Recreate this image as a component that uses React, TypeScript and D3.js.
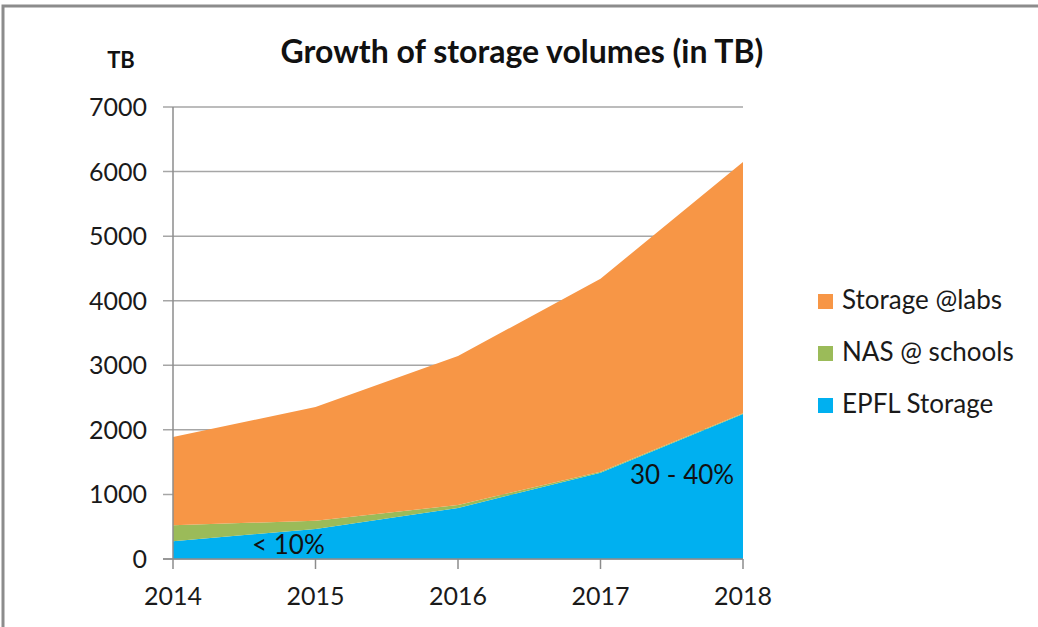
import { useEffect, useRef } from "react";
import * as d3 from "d3";

const years = [2014, 2015, 2016, 2017, 2018];
const epflStorage = [274, 465, 790, 1337, 2246];
const nasSchools = [248, 128, 46, 15, 10];
const storageLabs = [1368, 1761, 2308, 2988, 3894];
const yTicks = [0, 1000, 2000, 3000, 4000, 5000, 6000, 7000];

const seriesNames = ["EPFL Storage", "NAS @ schools", "Storage @labs"];
const seriesColors = ["#00b0f0", "#9bbb59", "#f79646"];

export default function App() {
  const svgRef = useRef<SVGSVGElement>(null);

  useEffect(() => {
    if (!svgRef.current) return;
    document.body.style.margin = "0";
    const svg = d3.select(svgRef.current);
    svg.selectAll("*").remove();

    const font = "Lato, 'Open Sans', sans-serif";

    const rows = years.map((y, i) => ({
      year: y,
      epfl: epflStorage[i],
      nas: nasSchools[i],
      labs: storageLabs[i],
    }));
    const keys = ["epfl", "nas", "labs"];
    const stacked = d3.stack<any>().keys(keys)(rows);

    const x = d3.scaleLinear().domain([2014, 2018]).range([173, 743]);
    const y = d3.scaleLinear().domain([0, 7000]).range([559, 107]);

    // outer frame
    svg
      .append("path")
      .attr("d", "M3,627 L3,6 L1038,6")
      .attr("fill", "none")
      .attr("stroke", "#8c8c8c")
      .attr("stroke-width", 3);

    // gridlines
    svg
      .append("g")
      .selectAll("line")
      .data(yTicks)
      .join("line")
      .attr("x1", 163)
      .attr("x2", 743)
      .attr("y1", (d) => y(d))
      .attr("y2", (d) => y(d))
      .attr("stroke", "#a6a6a6")
      .attr("stroke-width", 1.5);

    // stacked areas
    const area = d3
      .area<any>()
      .x((d) => x(d.data.year))
      .y0((d) => y(d[0]))
      .y1((d) => y(d[1]));

    svg
      .append("g")
      .selectAll("path")
      .data(stacked)
      .join("path")
      .attr("fill", (_d, i) => seriesColors[i])
      .attr("d", area);

    // axis lines
    svg
      .append("line")
      .attr("x1", 173)
      .attr("x2", 173)
      .attr("y1", y(7000))
      .attr("y2", y(0))
      .attr("stroke", "#8c8c8c")
      .attr("stroke-width", 1.5);

    svg
      .append("line")
      .attr("x1", 163)
      .attr("x2", 743)
      .attr("y1", y(0))
      .attr("y2", y(0))
      .attr("stroke", "#8c8c8c")
      .attr("stroke-width", 1.5);

    svg
      .append("g")
      .selectAll("line")
      .data(years)
      .join("line")
      .attr("x1", (d) => x(d))
      .attr("x2", (d) => x(d))
      .attr("y1", y(0))
      .attr("y2", y(0) + 10)
      .attr("stroke", "#8c8c8c")
      .attr("stroke-width", 1.5);

    // y tick labels
    svg
      .append("g")
      .selectAll("text")
      .data(yTicks)
      .join("text")
      .attr("x", 147)
      .attr("y", (d) => y(d) + 9)
      .attr("text-anchor", "end")
      .style("font-family", font)
      .style("font-size", "25px")
      .style("fill", "#1a1a1a")
      .text((d) => String(d));

    // x tick labels
    svg
      .append("g")
      .selectAll("text")
      .data(years)
      .join("text")
      .attr("x", (d) => x(d))
      .attr("y", 605)
      .attr("text-anchor", "middle")
      .style("font-family", font)
      .style("font-size", "25px")
      .style("fill", "#1a1a1a")
      .text((d) => String(d));

    // title
    svg
      .append("text")
      .attr("x", 522)
      .attr("y", 63)
      .attr("text-anchor", "middle")
      .style("font-family", font)
      .style("font-size", "32px")
      .style("font-weight", "bold")
      .style("fill", "#111")
      .text("Growth of storage volumes (in TB)");

    svg
      .append("text")
      .attr("x", 121)
      .attr("y", 68)
      .attr("text-anchor", "middle")
      .style("font-family", font)
      .style("font-size", "22px")
      .style("font-weight", "bold")
      .style("fill", "#111")
      .text("TB");

    // annotations
    svg
      .append("text")
      .attr("x", 252)
      .attr("y", 554)
      .style("font-family", font)
      .style("font-size", "26px")
      .style("fill", "#111")
      .text("< 10%");

    svg
      .append("text")
      .attr("x", 630)
      .attr("y", 484)
      .style("font-family", font)
      .style("font-size", "26px")
      .style("fill", "#111")
      .text("30 - 40%");

    // legend, top item is Storage @labs
    const legendItems = [2, 1, 0];
    const legend = svg
      .append("g")
      .selectAll("g")
      .data(legendItems)
      .join("g")
      .attr("transform", (_d, i) => `translate(818, ${301 + i * 52})`);

    legend
      .append("rect")
      .attr("x", 0)
      .attr("y", -7)
      .attr("width", 15)
      .attr("height", 15)
      .attr("fill", (d) => seriesColors[d]);

    legend
      .append("text")
      .attr("x", 24)
      .attr("y", 8)
      .style("font-family", font)
      .style("font-size", "26px")
      .style("fill", "#1a1a1a")
      .text((d) => seriesNames[d]);
  }, []);

  return (
    <svg
      ref={svgRef}
      width={1038}
      height={627}
      style={{ display: "block", background: "#fff" }}
    />
  );
}
